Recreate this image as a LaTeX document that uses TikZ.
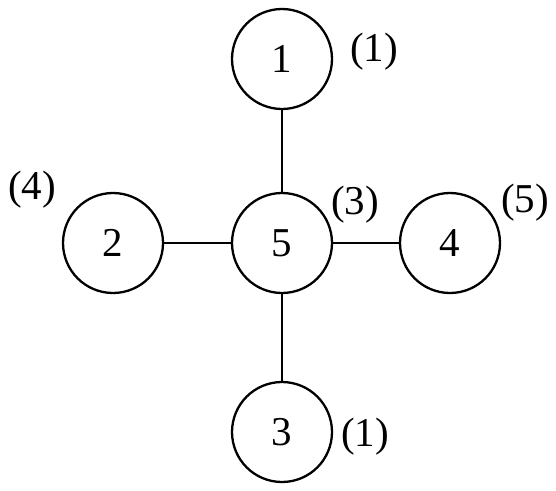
\documentclass[tikz,border=0pt]{standalone}
\usepackage{fontspec}
\setmainfont{Liberation Serif}
\begin{document}
\begin{tikzpicture}[x=1pt,y=-1pt,
  vert/.style={circle,draw,line width=2.3pt,minimum size=100pt,inner sep=0pt,font=\fontsize{41}{48}\selectfont},
  lab/.style={inner sep=0pt,font=\fontsize{41}{48}\selectfont},
  edge/.style={line width=2.3pt}]
\useasboundingbox (0,0) rectangle (556,490);
\node[vert] (n1) at (282,59) {1};
\node[vert] (n5) at (282,243) {5};
\node[vert] (n2) at (113,243) {2};
\node[vert] (n4) at (450,243) {4};
\node[vert] (n3) at (282,432) {3};
\node[lab] (l1) at (374,52) {(1)};
\node[lab] (l2) at (32,190) {(4)};
\node[lab] (l5) at (355,205) {(3)};
\node[lab] (l4) at (525,203) {(5)};
\node[lab] (l3) at (365,437) {(1)};
\draw[edge] (n1) -- (n5);
\draw[edge] (n2) -- (n5);
\draw[edge] (n5) -- (n4);
\draw[edge] (n5) -- (n3);
\end{tikzpicture}
\end{document}
